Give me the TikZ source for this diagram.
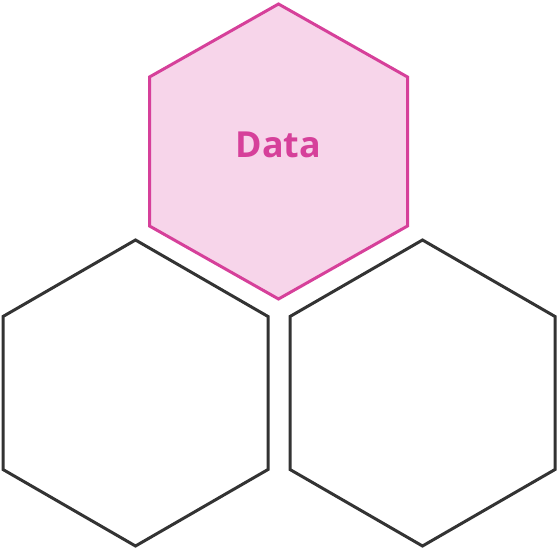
\documentclass[tikz,border=0pt]{standalone}
\usepackage{fontspec}
\setmainfont{Open Sans}
\definecolor{hexpink}{HTML}{D6409A}
\definecolor{hexfill}{HTML}{F7D5EA}
\definecolor{hexdark}{HTML}{333333}
\begin{document}
\begin{tikzpicture}[x=1bp,y=-1bp,
  hexline/.style={line width=3bp, line join=miter},
  pinkhex/.style={hexline, draw=hexpink, fill=hexfill},
  darkhex/.style={hexline, draw=hexdark, fill=white},
  label/.style={font=\fontsize{36}{40}\selectfont\bfseries, text=hexpink}]
\useasboundingbox (0,0) rectangle (558,549);
% top hexagon
\draw[pinkhex] (278.5,4) -- (407.5,77) -- (407.5,226) -- (278.5,299) -- (149.5,226) -- (149.5,77) -- cycle;
% left hexagon
\draw[darkhex] (135.5,240) -- (268,316.5) -- (268,469.5) -- (135.5,546) -- (3,469.5) -- (3,316.5) -- cycle;
% right hexagon
\draw[darkhex] (422.5,240) -- (555,316.5) -- (555,469.5) -- (422.5,546) -- (290,469.5) -- (290,316.5) -- cycle;
\node[label] (data) at (278.5,145) {Data};
\end{tikzpicture}
\end{document}
